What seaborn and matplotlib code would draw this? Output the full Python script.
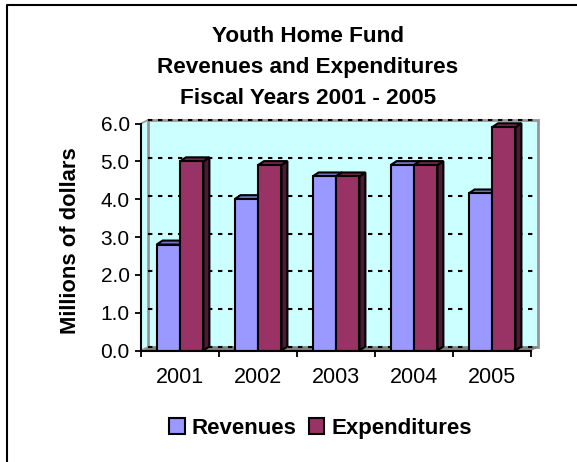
import matplotlib
matplotlib.use("Agg")
import matplotlib.pyplot as plt
from matplotlib.lines import Line2D
from matplotlib.patches import Polygon, Rectangle
import seaborn as sns
import pandas as pd

years = ["2001", "2002", "2003", "2004", "2005"]
revenues = [2.8, 4.0, 4.6, 4.9, 4.15]
expenditures = [5.0, 4.9, 4.6, 4.9, 5.9]
series_names = ["Revenues", "Expenditures"]
y_ticks = [0, 1, 2, 3, 4, 5, 6]
title_lines = "Youth Home Fund\nRevenues and Expenditures\nFiscal Years 2001 - 2005"
y_label = "Millions of dollars"

W, H = 577, 462
sns.set_theme(style="white")
plt.rcParams["font.family"] = ["Liberation Sans", "DejaVu Sans"]

df = pd.DataFrame({
    "year": years * 2,
    "value": revenues + expenditures,
    "series": [series_names[0]] * 5 + [series_names[1]] * 5,
})
face = {"Revenues": "#9999FF", "Expenditures": "#993366"}
top_c = {"Revenues": "#7373BF", "Expenditures": "#732648"}
side_c = {"Revenues": "#4D4D80", "Expenditures": "#4D1A33"}

fig = plt.figure(figsize=(W / 100, H / 100), dpi=100, facecolor="white")
L, R, T, B = 141, 531, 123.5, 350.5
ax = fig.add_axes([L / W, 1 - B / H, (R - L) / W, (B - T) / H])
ax.patch.set_visible(False)

sns.barplot(data=df, x="year", y="value", hue="series", palette=face,
            order=years, hue_order=series_names, width=0.6, gap=0, saturation=1,
            edgecolor="black", linewidth=1.5, legend=False, ax=ax, zorder=4)
ax.set_xlim(-0.5, 4.5)
ax.set_ylim(0, 6)

ux = (R - L) / 5
uy = (B - T) / 6
dx, dy = 7 / ux, 3.5 / uy          # depth of the 3-D effect, in data units
bdx, bdy = 6 / ux, 4 / uy

# back wall, floor and gridlines
ax.add_patch(Rectangle((-0.5 + dx, dy), 5, 6, fc="#CCFFFF", ec="#969696", lw=2,
                       clip_on=False, zorder=1))
ax.add_patch(Polygon([(-0.5, 0), (-0.5 + dx, dy), (4.5 + dx, dy), (4.5, 0)],
                     fc="#808080", ec="#808080", lw=0.5, clip_on=False, zorder=1.5))
ax.add_patch(Polygon([(-0.5, 0), (-0.5 + dx, dy), (-0.5 + dx, 6 + dy), (-0.5, 6)],
                     fc="#CCFFFF", ec="#969696", lw=1.2, clip_on=False, zorder=1.5))
for v in y_ticks:
    ax.plot([-0.5 + dx, 4.5 + dx], [v + dy, v + dy], color="black", lw=1.5,
            dashes=(2.1, 2.7), clip_on=False, zorder=2)

# 3-D tops and sides for each bar
bars = [p for p in ax.patches if isinstance(p, Rectangle) and p.get_zorder() == 4 and p.get_height() > 0]
names = [series_names[0]] * 5 + [series_names[1]] * 5
for bar, name in zip(bars, names):
    x0, w, h = bar.get_x(), bar.get_width(), bar.get_height()
    x1 = x0 + w
    z = 3 if name == "Revenues" else 3.5
    ax.add_patch(Polygon([(x1, 0), (x1 + bdx, bdy), (x1 + bdx, h + bdy), (x1, h)],
                         fc=side_c[name], ec="black", lw=1.5, clip_on=False, zorder=z))
    ax.add_patch(Polygon([(x0, h), (x0 + bdx, h + bdy), (x1 + bdx, h + bdy), (x1, h)],
                         fc=top_c[name], ec="black", lw=1.5, clip_on=False, zorder=z))

# axes
for s in ("top", "right"):
    ax.spines[s].set_visible(False)
for s in ("left", "bottom"):
    ax.spines[s].set_color("black")
    ax.spines[s].set_linewidth(1.5)
    ax.spines[s].set_zorder(5)
ax.set_yticks(y_ticks)
ax.set_yticklabels([f"{v:.1f}" for v in y_ticks])
ax.set_xticks([i - 0.5 for i in range(6)], minor=True)
ax.set_xticks(range(5))
ax.set_xticklabels(years)
ax.tick_params(axis="x", which="major", length=0, labelsize=15.5, pad=12, colors="black")
ax.tick_params(axis="x", which="minor", length=4.5, width=1.3, bottom=True, color="black")
ax.tick_params(axis="y", length=4.3, width=1.3, left=True, labelsize=15, pad=3.8, colors="black")
ax.set_xlabel("")
ax.set_ylabel("")

fig.text(71 / W, 1 - 241 / H, y_label, rotation=90, ha="center", va="center",
         fontsize=15.8, fontweight="bold", color="black")
fig.text(308 / W, 1 - 67.5 / H, title_lines, ha="center", va="center", fontsize=16.2,
         fontweight="bold", color="black", linespacing=1.6)

# legend
handles = [Rectangle((0, 0), 1, 1, fc=face[n], ec="black", lw=1.5) for n in series_names]
fig.legend(handles, series_names, loc="center", bbox_to_anchor=(320.5 / W, 1 - 428.5 / H),
           ncol=2, frameon=False, handlelength=0.7, handleheight=0.7, handletextpad=0.3,
           columnspacing=0.55, labelcolor="black", prop={"weight": "bold", "size": 16})

# outer chart frame: top and left edges
fig.add_artist(Line2D([6.5 / W, 6.5 / W, 1], [0, 1 - 5 / H, 1 - 5 / H],
                      color="black", lw=1.5, transform=fig.transFigure))

fig.savefig("out.png", dpi=100, facecolor="white")
